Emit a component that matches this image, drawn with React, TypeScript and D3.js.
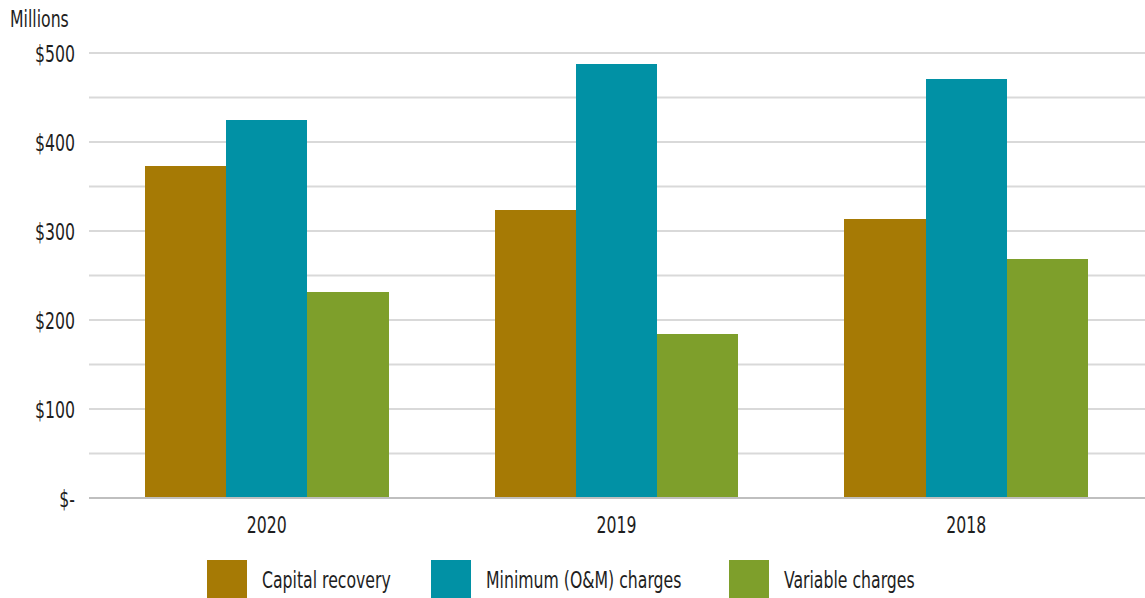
import React from "react";
import * as d3 from "d3";

const years = ["2020", "2019", "2018"];
const seriesNames = ["Capital recovery", "Minimum (O&M) charges", "Variable charges"];
const capitalRecovery = [373, 324, 314];
const minimumCharges = [425, 488, 471];
const variableCharges = [231, 184, 268];
const yTicks = [0, 100, 200, 300, 400, 500];
const gridValues = [50, 100, 150, 200, 250, 300, 350, 400, 450, 500];
const colors = ["#A67A05", "#0191A5", "#7E9F2B"];

const W = 1145;
const H = 598;
const FONT = "'DejaVu Sans Condensed', 'Liberation Sans Narrow', Roboto, sans-serif";
const FS = 23;
const SX = 0.76;

function T({ x, y, anchor = "start", children }: { x: number; y: number; anchor?: string; children: React.ReactNode }) {
  return (
    <text
      transform={`translate(${x},${y}) scale(${SX},1)`}
      textAnchor={anchor as any}
      fontSize={FS}
      fill="#1e1e1e"
    >
      {children}
    </text>
  );
}

export default function App() {
  const series = [capitalRecovery, minimumCharges, variableCharges];
  const x0 = d3.scaleBand<string>().domain(years).range([92, 1141]).paddingInner(0.303).paddingOuter(0.1515);
  const x1 = d3.scaleBand<string>().domain(seriesNames).range([0, x0.bandwidth()]).round(false);
  const y = d3.scaleLinear().domain([0, 500]).range([498, 53]);
  const tickLabel = (v: number) => (v === 0 ? "$-" : `$${v}`);

  const legendX = [207, 431, 729];

  return (
    <svg width={W} height={H} style={{ position: "absolute", left: 0, top: 0, fontFamily: FONT }}>
      <rect x={0} y={0} width={W} height={H} fill="#fff" />
      {gridValues.map((v) => (
        <line key={v} x1={89} x2={W} y1={y(v)} y2={y(v)} stroke="#d9d9d9" strokeWidth={2} />
      ))}
      {years.map((yr, i) => (
        <g key={yr}>
          {seriesNames.map((s, j) => {
            const xa = Math.round((x0(yr) as number) + (x1(s) as number));
            const xb = Math.round((x0(yr) as number) + (x1(s) as number) + x1.bandwidth());
            return (
              <rect
                key={s}
                x={xa}
                y={y(series[j][i])}
                width={xb - xa}
                height={y(0) - y(series[j][i])}
                fill={colors[j]}
                shapeRendering="crispEdges"
              />
            );
          })}
        </g>
      ))}
      <line x1={89} x2={W} y1={y(0)} y2={y(0)} stroke="#bfbfbf" strokeWidth={2} />
      {yTicks.map((v) => (
        <T key={v} x={75} y={y(v) + 9} anchor="end">
          {tickLabel(v)}
        </T>
      ))}
      <T x={10} y={27}>Millions</T>
      {years.map((yr) => (
        <T key={yr} x={(x0(yr) as number) + x0.bandwidth() / 2} y={533} anchor="middle">
          {yr}
        </T>
      ))}
      {seriesNames.map((s, j) => (
        <g key={s}>
          <rect x={legendX[j]} y={560} width={40} height={38} fill={colors[j]} />
          <T x={legendX[j] + 55} y={588}>{s}</T>
        </g>
      ))}
    </svg>
  );
}
